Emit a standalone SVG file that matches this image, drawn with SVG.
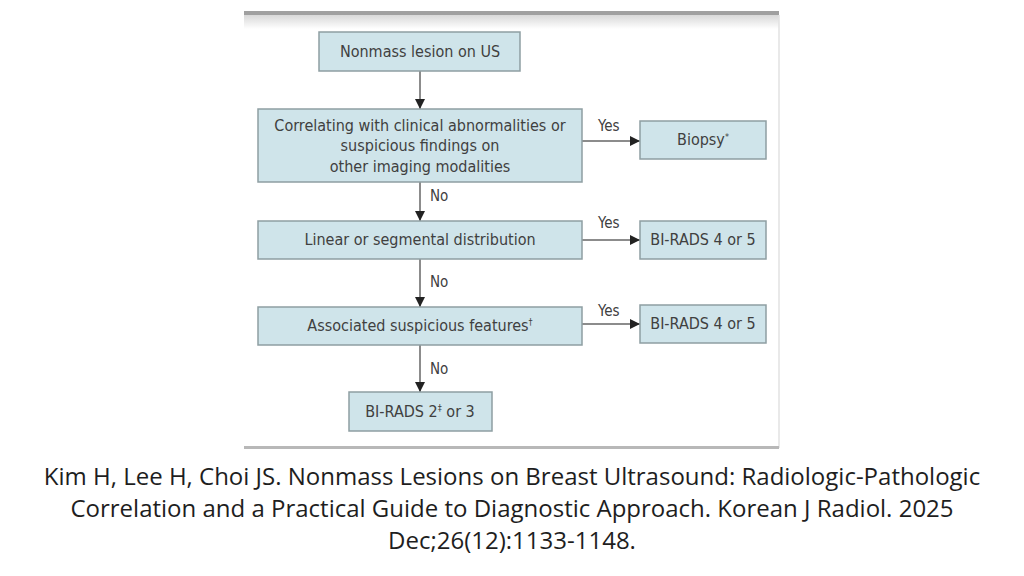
<svg xmlns="http://www.w3.org/2000/svg" width="1024" height="576" viewBox="0 0 1024 576">
  <defs>
    <linearGradient id="topfade" x1="0" y1="0" x2="0" y2="1">
      <stop offset="0" stop-color="#d8d8d8"/>
      <stop offset="1" stop-color="#ffffff"/>
    </linearGradient>
    <marker id="arrow" viewBox="0 0 10 10" refX="10" refY="5" markerWidth="10" markerHeight="10" markerUnits="userSpaceOnUse" orient="auto">
      <path d="M0,0 L10,5 L0,10 z" fill="#222"/>
    </marker>
  </defs>
  <style>
    .box { fill: #cfe4ea; stroke: #8e9ea2; stroke-width: 1.5; }
    .lbl { font-family: "DejaVu Sans Condensed", "DejaVu Sans", sans-serif; font-size: 16px; fill: #404040; text-anchor: middle; }
    .edge { stroke: #666; stroke-width: 1.5; fill: none; marker-end: url(#arrow); }
    .elbl { font-family: "DejaVu Sans Condensed", "DejaVu Sans", sans-serif; font-size: 15px; fill: #404040; }
    .cap { font-family: "Open Sans", "Noto Sans", sans-serif; font-size: 24px; fill: #1e1e1e; text-anchor: middle; }
    .sup { font-size: 9px; }
  </style>
  <rect width="1024" height="576" fill="#ffffff"/>
  <g id="panel">
    <rect x="244" y="15" width="535" height="14" fill="url(#topfade)"/>
    <rect x="244" y="11" width="535" height="4" fill="#a0a0a0"/>
    <line x1="779" y1="15" x2="779" y2="448" stroke="#e2e2e2" stroke-width="1.5"/>
    <rect x="244" y="446" width="535" height="3" fill="#b8b8b8"/>
  </g>

  <g id="connectors">
    <line class="edge" x1="420" y1="71" x2="420" y2="109"/>
    <line class="edge" x1="582" y1="141" x2="640" y2="141"/>
    <text class="elbl" x="598" y="131">Yes</text>
    <line class="edge" x1="420" y1="182" x2="420" y2="221"/>
    <text class="elbl" x="430" y="201">No</text>
    <line class="edge" x1="582" y1="240" x2="640" y2="240"/>
    <text class="elbl" x="598" y="228">Yes</text>
    <line class="edge" x1="420" y1="259" x2="420" y2="307"/>
    <text class="elbl" x="430" y="287">No</text>
    <line class="edge" x1="582" y1="324" x2="640" y2="324"/>
    <text class="elbl" x="598" y="316">Yes</text>
    <line class="edge" x1="420" y1="345" x2="420" y2="392"/>
    <text class="elbl" x="430" y="374">No</text>
  </g>

  <g id="n1">
    <rect class="box" x="319" y="32" width="201" height="39"/>
    <text class="lbl" x="420" y="57">Nonmass lesion on US</text>
  </g>
  <g id="n2">
    <rect class="box" x="258" y="109" width="324" height="73"/>
    <text class="lbl" x="420" y="131">Correlating with clinical abnormalities or</text>
    <text class="lbl" x="420" y="151">suspicious findings on</text>
    <text class="lbl" x="420" y="172">other imaging modalities</text>
  </g>
  <g id="n3">
    <rect class="box" x="640" y="121" width="126" height="38"/>
    <text class="lbl" x="703" y="145">Biopsy<tspan class="sup" dy="-5">*</tspan></text>
  </g>
  <g id="n4">
    <rect class="box" x="258" y="221" width="324" height="38"/>
    <text class="lbl" x="420" y="245">Linear or segmental distribution</text>
  </g>
  <g id="n5">
    <rect class="box" x="640" y="221" width="126" height="38"/>
    <text class="lbl" x="703" y="245">BI-RADS 4 or 5</text>
  </g>
  <g id="n6">
    <rect class="box" x="258" y="307" width="324" height="38"/>
    <text class="lbl" x="420" y="331">Associated suspicious features<tspan class="sup" dy="-6">†</tspan></text>
  </g>
  <g id="n7">
    <rect class="box" x="640" y="305" width="126" height="38"/>
    <text class="lbl" x="703" y="329">BI-RADS 4 or 5</text>
  </g>
  <g id="n8">
    <rect class="box" x="349" y="392" width="143" height="39"/>
    <text class="lbl" x="420" y="417">BI-RADS 2<tspan class="sup" dy="-6">‡</tspan><tspan dy="6"> or 3</tspan></text>
  </g>

  <g id="caption">
    <text class="cap" x="512" y="485">Kim H, Lee H, Choi JS. Nonmass Lesions on Breast Ultrasound: Radiologic-Pathologic</text>
    <text class="cap" x="512" y="517">Correlation and a Practical Guide to Diagnostic Approach. Korean J Radiol. 2025</text>
    <text class="cap" x="512" y="549">Dec;26(12):1133-1148.</text>
  </g>
</svg>
